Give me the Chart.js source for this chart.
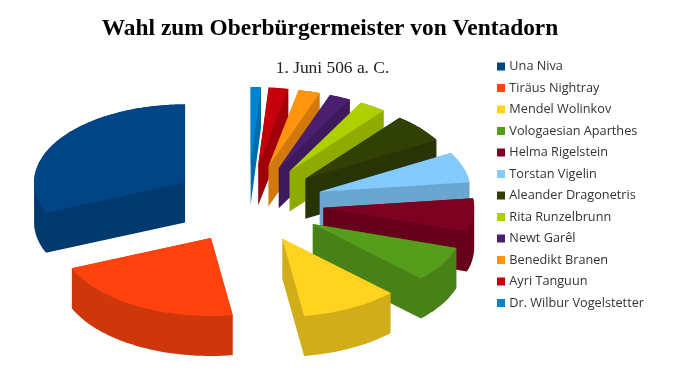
<!DOCTYPE html>
<html lang="de">
<head>
    <meta charset="UTF-8" />
    <title>Wahl zum Oberbürgermeister von Ventadorn</title>
    <script src="https://cdn.jsdelivr.net/npm/chart.js"></script>
    <style>
        html, body { margin: 0; padding: 0; background: #fff; }
        canvas { display: block; }
    </style>
</head>
<body>
    <canvas id="wahlChart" width="660" height="381"></canvas>
    <script>
        const candidates = ["Una Niva", "Tiräus Nightray", "Mendel Wolinkov", "Vologaesian Aparthes", "Helma Rigelstein", "Torstan Vigelin", "Aleander Dragonetris", "Rita Runzelbrunn", "Newt Garêl", "Benedikt Branen", "Ayri Tanguun", "Dr. Wilbur Vogelstetter"];
        const voteShares = [31.3, 20.9, 10.4, 7.3, 6.9, 6.3, 6.0, 2.9, 2.3, 2.3, 2.1, 1.1];
        const topColors = ["#004586", "#ff420e", "#ffd320", "#579d1c", "#7e0021", "#83caff", "#314004", "#aecf00", "#4b1f6f", "#ff950e", "#c5000b", "#0084d1"];
        const wallColors = ["#00396e", "#cd370b", "#d1ad1a", "#478117", "#67001b", "#6ba6d1", "#283403", "#8faa00", "#3e195b", "#d17a0b", "#a20009", "#006cab"];

        // projection of the tilted pie
        const pieCenter = { x: 248, y: 204 };
        const radiusX = 151;
        const radiusY = 78;
        const explode = 0.5;
        const depth = 40;

        // outline of a slice on screen: apex, then points along its rim
        function sliceOutline(arc) {
            const mid = (arc.startAngle + arc.endAngle) / 2;
            const px = pieCenter.x - Math.cos(mid) * explode * radiusX;
            const py = pieCenter.y + Math.sin(mid) * explode * radiusY;
            const outline = [[px, py]];
            const steps = Math.ceil((arc.endAngle - arc.startAngle) / 0.02);
            for (let s = 0; s <= steps; s++) {
                const a = arc.startAngle + (arc.endAngle - arc.startAngle) * s / steps;
                outline.push([px - Math.cos(a) * radiusX, py + Math.sin(a) * radiusY]);
            }
            return outline;
        }

        function convexHull(points) {
            const sorted = points.slice().sort((p, q) => p[0] - q[0] || p[1] - q[1]);
            const cross = (o, p, q) => (p[0] - o[0]) * (q[1] - o[1]) - (p[1] - o[1]) * (q[0] - o[0]);
            const chain = list => {
                const out = [];
                list.forEach(p => {
                    while (out.length > 1 && cross(out[out.length - 2], out[out.length - 1], p) <= 0) out.pop();
                    out.push(p);
                });
                out.pop();
                return out;
            };
            return chain(sorted).concat(chain(sorted.slice().reverse()));
        }

        function fillPolygon(ctx, points, color) {
            ctx.beginPath();
            points.forEach((p, i) => i ? ctx.lineTo(p[0], p[1]) : ctx.moveTo(p[0], p[1]));
            ctx.closePath();
            ctx.fillStyle = color;
            ctx.fill();
        }

        // draws the arcs Chart.js laid out as an exploded 3D pie, counter-clockwise from the top
        const pie3d = {
            id: "pie3d",
            afterLayout(chart) {
                const legend = chart.legend;
                const height = legend.bottom - legend.top;
                legend.left = 499 - legend.options.labels.padding;
                legend.top = 51.4;
                legend.bottom = legend.top + height;
                const subtitle = chart.boxes.find(b => b.options && b.options.text === "1. Juni 506 a. C.");
                subtitle.left += 2.5;
                subtitle.right += 2.5;
            },
            beforeDatasetDraw(chart) {
                const ctx = chart.ctx;
                const arcs = chart.getDatasetMeta(0).data;
                // back to front, last slice sits at the top of the picture
                for (let i = arcs.length - 1; i >= 0; i--) {
                    const top = sliceOutline(arcs[i]);
                    const bottom = top.map(p => [p[0], p[1] + depth]);
                    fillPolygon(ctx, convexHull(top.concat(bottom)), wallColors[i]);
                    fillPolygon(ctx, top, topColors[i]);
                }
                return false;
            },
        };

        new Chart(document.getElementById("wahlChart"), {
            type: "pie",
            data: {
                labels: candidates,
                datasets: [{
                    data: voteShares,
                    backgroundColor: topColors,
                    borderColor: topColors,
                    borderWidth: 4,
                }],
            },
            options: {
                responsive: false,
                animation: false,
                plugins: {
                    title: {
                        display: true,
                        text: "Wahl zum Oberbürgermeister von Ventadorn",
                        color: "#000",
                        font: { family: "'Liberation Serif'", size: 23.4, weight: "bold" },
                        padding: { top: 15, bottom: 10 },
                    },
                    subtitle: {
                        display: true,
                        text: "1. Juni 506 a. C.",
                        color: "#222",
                        font: { family: "'Liberation Serif'", size: 17.4, weight: "normal" },
                        padding: { top: 5, bottom: 6 },
                    },
                    legend: {
                        position: "right",
                        align: "start",
                        labels: {
                            boxWidth: 4,
                            boxHeight: 4,
                            padding: 8.8,
                            color: "#333",
                            font: { family: "'Open Sans'", size: 12.7 },
                        },
                    },
                    tooltip: { enabled: false },
                },
            },
            plugins: [pie3d],
        });
    </script>
</body>
</html>
